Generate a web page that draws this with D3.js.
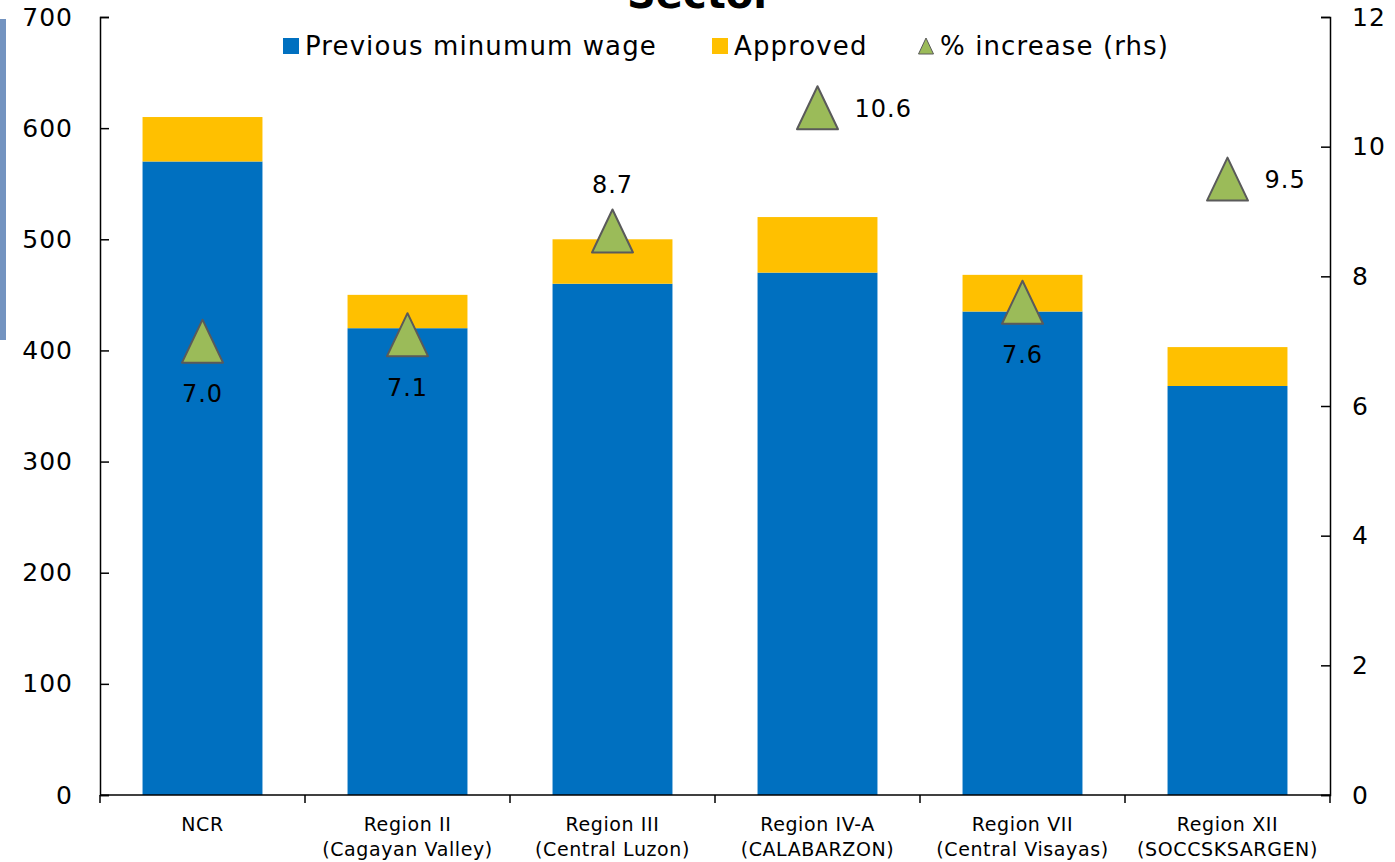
<!DOCTYPE html>
<html>
<head>
<meta charset="utf-8">
<script src="https://cdn.jsdelivr.net/npm/d3@7"></script>
<style>
  body { margin: 0; background: #fff; }
  svg text { font-family: "DejaVu Sans", sans-serif; fill: #000; }
  .axis path, .axis line { stroke: #000; stroke-width: 1.5; }
</style>
</head>
<body>
<div id="chart"></div>
<script>
// data
const regions = ["NCR", "Region II|(Cagayan Valley)", "Region III|(Central Luzon)",
  "Region IV-A|(CALABARZON)", "Region VII|(Central Visayas)", "Region XII|(SOCCSKSARGEN)"];
const previousWage = [570, 420, 460, 470, 435, 368];
const approved = [40, 30, 40, 50, 33, 35];
const pctIncrease = [7.0, 7.1, 8.7, 10.6, 7.6, 9.5];
const labelPos = ["below", "below", "above", "right", "below", "right"];
const leftTicks = [0, 100, 200, 300, 400, 500, 600, 700];
const rightTicks = [0, 2, 4, 6, 8, 10, 12];

const W = 1395, H = 862;
const margin = { top: 17, right: 65, bottom: 67, left: 100 };
const width = W - margin.left - margin.right;
const height = H - margin.top - margin.bottom;

const svg = d3.select("#chart").append("svg")
  .attr("width", W).attr("height", H);

// stray slide decoration at the left edge
svg.append("rect").attr("x", 0).attr("y", 19).attr("width", 6).attr("height", 321)
  .attr("fill", "#7393C0");

// title, cut off at the top as in the original
svg.append("text").attr("x", 700).attr("y", 8).attr("text-anchor", "middle")
  .attr("font-size", 40).attr("font-weight", "bold").text("Sector");

const g = svg.append("g").attr("transform", `translate(${margin.left},${margin.top})`);

const x = d3.scaleBand().domain(regions).range([0, width]).paddingInner(0.415).paddingOuter(0.2075);
const xEdge = d3.scaleLinear().domain([0, regions.length]).range([0, width]);
const y = d3.scaleLinear().domain([0, 700]).range([height, 0]);
const y2 = d3.scaleLinear().domain([0, 12]).range([height, 0]);

// stacked bars
const rows = regions.map((r, i) => ({ region: r, prev: previousWage[i], appr: approved[i] }));
const series = d3.stack().keys(["prev", "appr"])(rows);
const colors = { prev: "#0070C0", appr: "#FFC000" };

g.selectAll("g.layer").data(series).join("g").attr("class", "layer")
  .attr("fill", d => colors[d.key])
  .selectAll("rect").data(d => d).join("rect")
  .attr("x", d => x(d.data.region))
  .attr("width", x.bandwidth())
  .attr("y", d => y(d[1]))
  .attr("height", d => y(d[0]) - y(d[1]));

// axes
g.append("g").attr("class", "axis")
  .call(d3.axisLeft(y).tickValues(leftTicks).tickSize(-9).tickPadding(27))
  .call(a => a.selectAll("text").attr("font-size", 25).attr("letter-spacing", 1));

g.append("g").attr("class", "axis").attr("transform", `translate(${width},0)`)
  .call(d3.axisRight(y2).tickValues(rightTicks).tickSize(-9).tickPadding(22))
  .call(a => a.selectAll("text").attr("font-size", 25).attr("letter-spacing", 1));

const bottom = g.append("g").attr("class", "axis").attr("transform", `translate(0,${height})`);
bottom.append("line").attr("x1", 0).attr("x2", width).attr("stroke", "#000").attr("stroke-width", 1.5);
bottom.selectAll("line.tk").data(d3.range(regions.length + 1)).join("line").attr("class", "tk")
  .attr("x1", d => xEdge(d)).attr("x2", d => xEdge(d)).attr("y1", 0).attr("y2", 8)
  .attr("stroke", "#000").attr("stroke-width", 1.5);
bottom.selectAll("text").data(regions).join("text")
  .attr("text-anchor", "middle").attr("font-size", 19).attr("letter-spacing", 0.6)
  .attr("transform", d => `translate(${x(d) + x.bandwidth() / 2},36)`)
  .each(function (d) {
    d.split("|").forEach((t, j) => {
      d3.select(this).append("tspan").attr("x", 0).attr("dy", j ? 25 : 0).text(t);
    });
  });

// % increase markers (triangle centred on its box, slightly taller than wide)
const tri = d3.line()([[0, -21.5], [20.5, 21.5], [-20.5, 21.5]]) + "Z";
const pts = g.selectAll("g.pt").data(pctIncrease).join("g").attr("class", "pt")
  .attr("transform", (d, i) => `translate(${x(regions[i]) + x.bandwidth() / 2},${y2(d)})`);
pts.append("path").attr("d", tri).attr("fill", "#9BBB59").attr("stroke", "#5A5A5A")
  .attr("stroke-width", 2).attr("stroke-linejoin", "round");
pts.append("text").attr("font-size", 24).attr("letter-spacing", 1)
  .attr("text-anchor", (d, i) => labelPos[i] === "right" ? "start" : "middle")
  .attr("x", (d, i) => labelPos[i] === "right" ? 37 : 0)
  .attr("y", (d, i) => labelPos[i] === "below" ? 61 : labelPos[i] === "above" ? -38 : 9)
  .text(d => d.toFixed(1));

// legend
const legend = svg.append("g").attr("transform", "translate(283,46)");
const items = [
  { label: "Previous minumum wage", x: 0, type: "rect", color: colors.prev },
  { label: "Approved", x: 429, type: "rect", color: colors.appr },
  { label: "% increase (rhs)", x: 635, type: "tri" }
];
items.forEach(it => {
  const row = legend.append("g").attr("transform", `translate(${it.x},0)`);
  if (it.type === "rect") {
    row.append("rect").attr("x", 0).attr("y", -8).attr("width", 16).attr("height", 16).attr("fill", it.color);
  } else {
    row.append("path").attr("transform", "translate(8,0)")
      .attr("d", d3.line()([[0, -8], [7.5, 8], [-7.5, 8]]) + "Z")
      .attr("fill", "#9BBB59").attr("stroke", "#5A5A5A").attr("stroke-width", 1);
  }
  row.append("text").attr("x", 22).attr("y", 9).attr("font-size", 26).attr("letter-spacing", 1.1).text(it.label);
});
</script>
</body>
</html>
